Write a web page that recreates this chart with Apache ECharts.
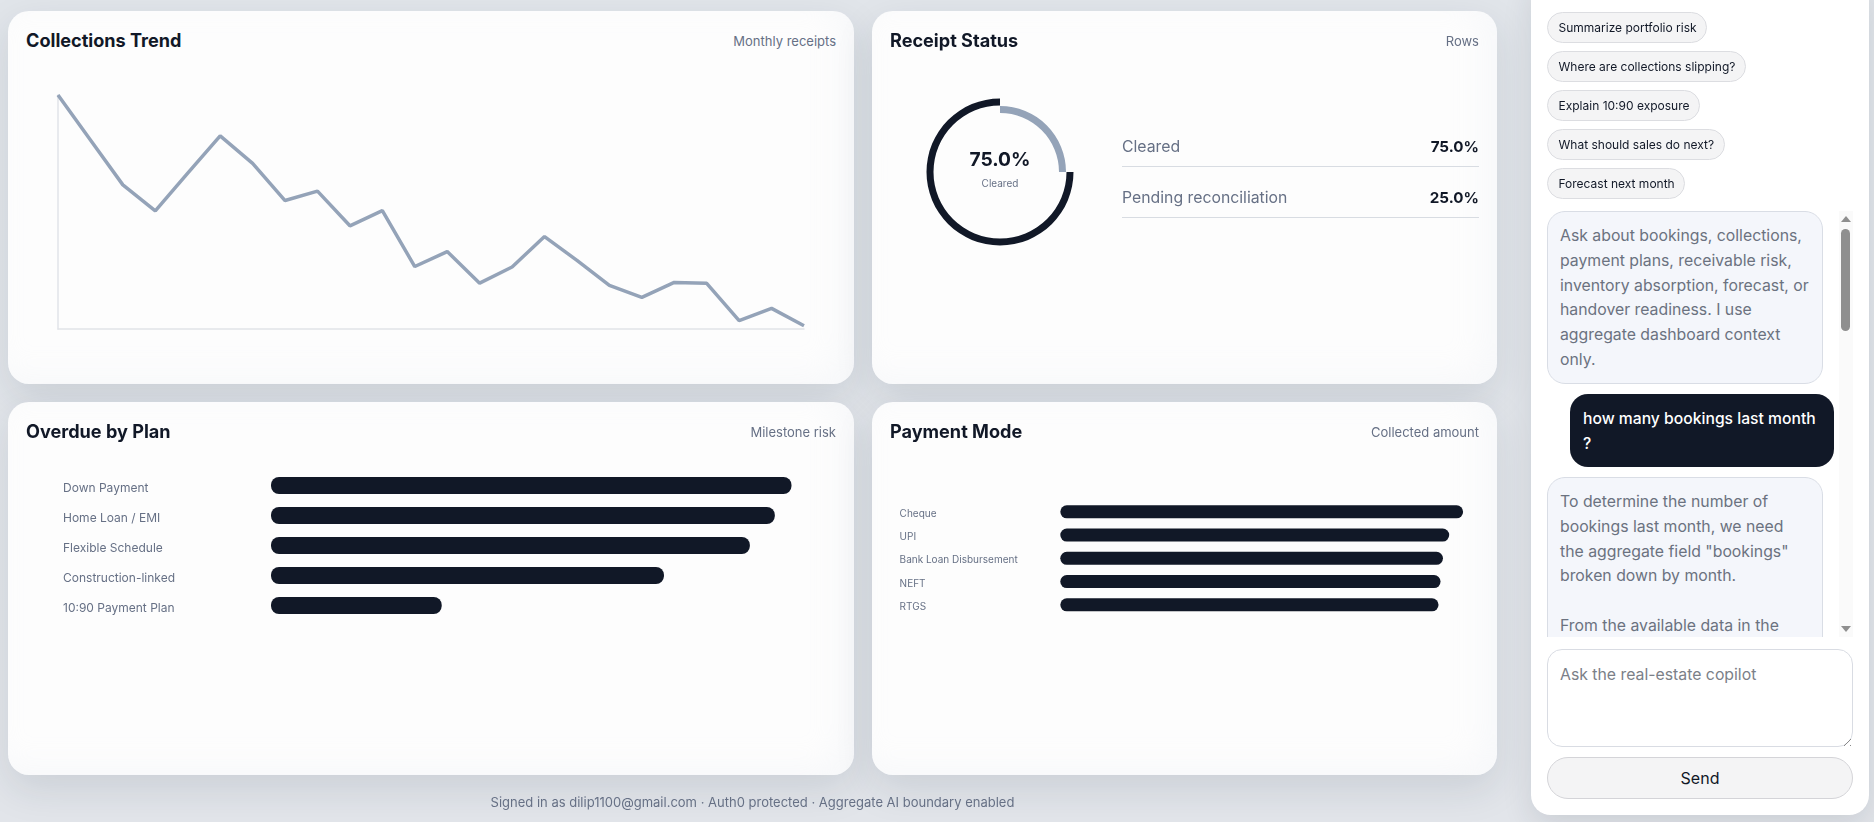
<!DOCTYPE html>
<html><head><meta charset="utf-8">
<script src="https://cdn.jsdelivr.net/npm/echarts@6/dist/echarts.min.js"></script>
<style>
*{box-sizing:border-box}
html,body{margin:0;padding:0;width:1874px;height:822px;overflow:hidden;background:#e4e7ec;font-family:Inter,"Noto Sans",sans-serif;color:#111827}
#page{position:relative;width:1874px;height:822px;overflow:hidden;background:linear-gradient(180deg,#e1e5ea,#e2e5ea)}
.abs{position:absolute}
.card{position:absolute;background:#fdfdfd;border-radius:21px;box-shadow:0 14px 38px rgba(30,41,59,.115),inset -14px -8px 30px rgba(226,232,240,.22)}
.card .t{position:absolute;left:18px;top:16.5px;font-size:18.1px;line-height:24px;font-weight:700;color:#111827;white-space:nowrap}
.card .s{position:absolute;right:18px;top:18.5px;font-size:13px;line-height:22px;color:#667085;white-space:nowrap}
.chart{position:absolute;left:0;top:0;width:100%;height:100%}
.rowt{position:absolute;font-size:15.8px;line-height:22px;color:#667085;white-space:nowrap}
.rowv{position:absolute;font-size:15.2px;line-height:22px;font-weight:700;color:#111827;white-space:nowrap;text-align:right}
.rule{position:absolute;height:1px;background:#d8dce2}
.chip{position:absolute;left:1547px;height:31px;border:1px solid #dcdde1;background:#f4f4f5;border-radius:16px;font-size:12px;line-height:29px;padding-left:10.5px;color:#111827;white-space:nowrap}
.bub{position:absolute;left:1547px;width:276px;background:#f4f6fb;border:1px solid #d9dde5;border-radius:18px;color:#6b7280;font-size:15.8px;line-height:24.8px;padding:12px 12px;white-space:pre}
</style></head><body><div id="page">
<div class="card" style="left:8px;top:11px;width:846px;height:373px"><div class="t">Collections Trend</div><div class="s">Monthly receipts</div><div class="chart" id="c1"></div></div>
<div class="card" style="left:872px;top:11px;width:625px;height:373px"><div class="t">Receipt Status</div><div class="s">Rows</div><div class="chart" id="c2"></div>
<div class="abs" id="dv" style="left:78px;top:135px;width:100px;text-align:center;font-size:19.2px;line-height:26px;font-weight:700;color:#111827"></div>
<div class="abs" id="dl" style="left:78px;top:165px;width:100px;text-align:center;font-size:10px;line-height:14px;color:#667085"></div>
<div class="rowt" id="r1t" style="left:250px;top:125px"></div><div class="rowv" id="r1v" style="right:18px;top:125px"></div><div class="rule" style="left:250px;right:18px;top:155px"></div>
<div class="rowt" id="r2t" style="left:250px;top:176px"></div><div class="rowv" id="r2v" style="right:18px;top:176px"></div><div class="rule" style="left:250px;right:18px;top:206px"></div>
</div>
<div class="card" style="left:8px;top:402px;width:846px;height:373px"><div class="t">Overdue by Plan</div><div class="s">Milestone risk</div><div class="chart" id="c3"></div></div>
<div class="card" style="left:872px;top:402px;width:625px;height:373px"><div class="t">Payment Mode</div><div class="s">Collected amount</div><div class="chart" id="c4"></div></div>
<div class="abs" style="left:0;width:1505px;top:791px;text-align:center;font-size:13px;line-height:22px;color:#667085">Signed in as dilip1100@gmail.com · Auth0 protected · Aggregate AI boundary enabled</div>

<div class="abs" style="left:1531px;top:-20px;width:338px;height:835px;background:#fff;border-radius:20px;box-shadow:0 10px 30px rgba(30,41,59,.12)"></div>
<div class="chip" style="top:12px;width:160px">Summarize portfolio risk</div>
<div class="chip" style="top:51px;width:199px">Where are collections slipping?</div>
<div class="chip" style="top:90px;width:153px">Explain 10:90 exposure</div>
<div class="chip" style="top:129px;width:178px">What should sales do next?</div>
<div class="chip" style="top:168px;width:138px">Forecast next month</div>
<div class="abs" style="left:1839px;top:211px;width:14px;height:426px;background:#fafafa"></div>
<div class="abs" style="left:1841px;top:216px;width:0;height:0;border-left:5px solid transparent;border-right:5px solid transparent;border-bottom:6px solid #8f8f8f"></div>
<div class="abs" style="left:1841px;top:229px;width:9px;height:102px;border-radius:5px;background:#8f8f8f"></div>
<div class="abs" style="left:1841px;top:626px;width:0;height:0;border-left:5px solid transparent;border-right:5px solid transparent;border-top:6px solid #8f8f8f"></div>
<div class="bub" style="top:211px;height:173px">Ask about bookings, collections,
payment plans, receivable risk,
inventory absorption, forecast, or
handover readiness. I use
aggregate dashboard context
only.</div>
<div class="abs" style="left:1570px;top:394px;width:264px;height:73px;background:#111827;border-radius:18px;color:#fff;font-size:15.7px;font-weight:500;line-height:25px;padding:11.5px 13px;white-space:pre">how many bookings last month
?</div>
<div class="abs" style="left:1547px;top:477px;width:276px;height:160px;overflow:hidden"><div class="bub" style="left:0;top:0;height:260px">To determine the number of
bookings last month, we need
the aggregate field "bookings"
broken down by month.

From the available data in the</div></div>
<div class="abs" style="left:1547px;top:649px;width:306px;height:98px;background:#fff;border:1px solid #d9dce3;border-radius:15px;font-size:15.8px;line-height:24px;padding:13px 12px;color:#7b8088">Ask the real-estate copilot</div>
<div class="abs" style="left:1843px;top:738px;width:8px;height:8px;background:repeating-linear-gradient(135deg,transparent 0 2px,#8a8a8a 2px 3px,transparent 3px 4px);clip-path:polygon(100% 0,100% 100%,0 100%)"></div>
<div class="abs" style="left:1547px;top:757px;width:306px;height:42px;background:#f4f4f5;border:1px solid #d4d4d8;border-radius:21px;font-size:16px;line-height:40px;text-align:center;color:#111827">Send</div>
</div>
<script>
var trendMonths=["M01","M02","M03","M04","M05","M06","M07","M08","M09","M10","M11","M12","M13","M14","M15","M16","M17","M18","M19","M20","M21","M22","M23","M24"];
var trendValues=[100,80.8,61.6,50.5,66.6,82.5,70.8,54.9,58.9,44.1,50.6,26.7,33.1,19.6,26.5,39.5,29.3,18.6,13.5,19.9,19.5,3.6,8.8,1.4];
var statusLabels=["Cleared","Pending reconciliation"];
var statusValues=[75.0,25.0];
var planNames=["Down Payment","Home Loan / EMI","Flexible Schedule","Construction-linked","10:90 Payment Plan"];
var planValues=[100,96.8,92.0,75.5,32.8];
var modeNames=["Cheque","UPI","Bank Loan Disbursement","NEFT","RTGS"];
var modeValues=[100,96.55,95.0,94.4,93.9];
var DARK="#111827",GREY="#94a3b8",FONT="Inter";

var c1=echarts.init(document.getElementById("c1"));
c1.setOption({animation:false,
 grid:{left:50,top:84,width:746,height:234},
 xAxis:{type:"category",boundaryGap:false,data:trendMonths,axisLabel:{show:false},axisTick:{show:false},axisLine:{show:true,lineStyle:{color:"#e1e3e8",width:1.5}},splitLine:{show:false}},
 yAxis:{type:"value",min:0,max:100,axisLabel:{show:false},axisTick:{show:false},axisLine:{show:true,lineStyle:{color:"#e1e3e8",width:1.5}},splitLine:{show:false}},
 series:[{type:"line",data:trendValues,symbol:"none",silent:true,lineStyle:{color:GREY,width:3.5}}]});

var c2=echarts.init(document.getElementById("c2"));
c2.setOption({animation:false,series:[
 {type:"pie",silent:true,center:[128,161],radius:[66.5,73.5],startAngle:0,label:{show:false},labelLine:{show:false},
  data:[{name:statusLabels[0],value:statusValues[0],itemStyle:{color:DARK}},{name:statusLabels[1],value:statusValues[1],itemStyle:{color:"transparent"}}]},
 {type:"pie",silent:true,center:[128,161],radius:[59,66],startAngle:90,label:{show:false},labelLine:{show:false},
  data:[{name:statusLabels[1],value:statusValues[1],itemStyle:{color:GREY}},{name:statusLabels[0],value:statusValues[0],itemStyle:{color:"transparent"}}]}
]});
document.getElementById("dv").textContent=statusValues[0].toFixed(1)+"%";
document.getElementById("dl").textContent=statusLabels[0];
document.getElementById("r1t").textContent=statusLabels[0];
document.getElementById("r1v").textContent=statusValues[0].toFixed(1)+"%";
document.getElementById("r2t").textContent=statusLabels[1];
document.getElementById("r2v").textContent=statusValues[1].toFixed(1)+"%";

function bars(id,names,vals,g,bw,r,margin,fs,lh){
 var c=echarts.init(document.getElementById(id));
 c.setOption({animation:false,grid:g,
  xAxis:{type:"value",min:0,max:100,show:false},
  yAxis:{type:"category",inverse:true,data:names,axisTick:{show:false},axisLine:{show:false},splitLine:{show:false},
   axisLabel:{align:"left",verticalAlign:"top",lineHeight:lh,margin:margin,color:"#667085",fontFamily:FONT,fontSize:fs}},
  series:[{type:"bar",data:vals,barWidth:bw,silent:true,itemStyle:{color:DARK,borderRadius:r}}]});
}
bars("c3",planNames,planValues,{left:263,top:68.5,width:520.5,height:150},17,8,208,12,5);
bars("c4",modeNames,modeValues,{left:188.3,top:98.2,width:402.8,height:116.3},13,6.5,160.7,10,4);
</script></body></html>
